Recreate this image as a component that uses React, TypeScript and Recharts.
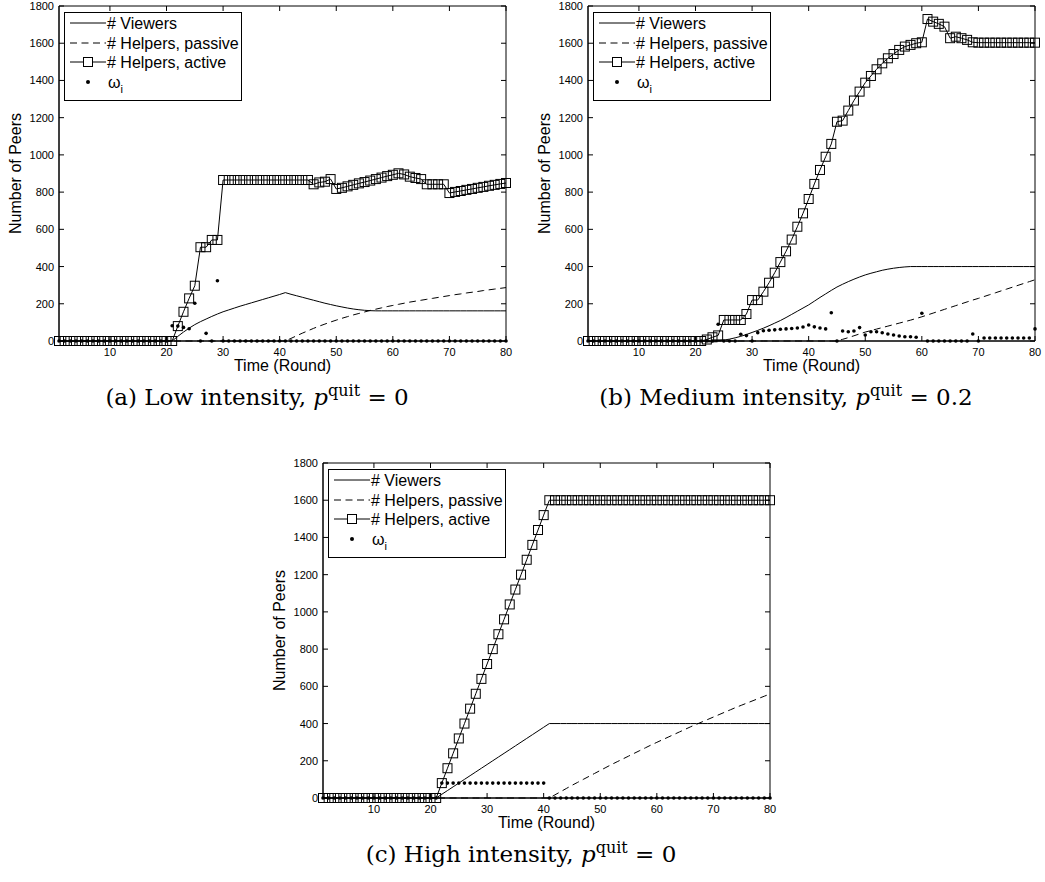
import { ComposedChart, Line, XAxis, YAxis, Legend, ReferenceArea, Label } from 'recharts'

const rounds = [
  1, 2, 3, 4, 5, 6, 7, 8, 9, 10, 11, 12, 13, 14, 15, 16, 17, 18, 19, 20,
  21, 22, 23, 24, 25, 26, 27, 28, 29, 30, 31, 32, 33, 34, 35, 36, 37, 38, 39, 40,
  41, 42, 43, 44, 45, 46, 47, 48, 49, 50, 51, 52, 53, 54, 55, 56, 57, 58, 59, 60,
  61, 62, 63, 64, 65, 66, 67, 68, 69, 70, 71, 72, 73, 74, 75, 76, 77, 78, 79, 80,
]
const xTicks = [10, 20, 30, 40, 50, 60, 70, 80]
const yTicks = [0, 200, 400, 600, 800, 1000, 1200, 1400, 1600, 1800]

// (a) low intensity
const viewersA = [
  0, 0, 0, 0, 0, 0, 0, 0, 0, 0,
  0, 0, 0, 0, 0, 0, 0, 0, 0, 0,
  0, 25, 48, 69, 88, 104, 118, 132, 145, 157,
  167, 177, 187, 196, 205, 214, 223, 232, 241, 250,
  260, 251, 243, 235, 227, 219, 211, 203, 196, 189,
  183, 177, 172, 168, 165, 163, 162, 162, 162, 162,
  162, 162, 162, 162, 162, 162, 162, 162, 162, 162,
  162, 162, 162, 162, 162, 162, 162, 162, 162, 162,
]
const passiveA = [
  0, 0, 0, 0, 0, 0, 0, 0, 0, 0,
  0, 0, 0, 0, 0, 0, 0, 0, 0, 0,
  0, 0, 0, 0, 0, 0, 0, 0, 0, 0,
  0, 0, 0, 0, 0, 0, 0, 0, 0, 0,
  0, 14, 28, 42, 55, 68, 80, 91, 102, 112,
  122, 131, 140, 148, 156, 164, 171, 178, 185, 191,
  197, 203, 209, 214, 219, 224, 229, 234, 239, 244,
  249, 253, 258, 262, 266, 271, 275, 279, 283, 287,
]
const activeA = [
  0, 0, 0, 0, 0, 0, 0, 0, 0, 0,
  0, 0, 0, 0, 0, 0, 0, 0, 0, 0,
  0, 80, 157, 229, 297, 504, 504, 543, 543, 865,
  865, 865, 865, 865, 865, 865, 865, 865, 865, 865,
  865, 865, 865, 865, 865, 842, 852, 856, 870, 817,
  823, 831, 839, 847, 854, 862, 870, 878, 886, 893,
  901, 895, 883, 876, 870, 842, 842, 842, 842, 795,
  801, 806, 812, 817, 823, 828, 834, 839, 844, 849,
]
const omegaA = [
  0, 0, 0, 0, 0, 0, 0, 0, 0, 0,
  0, 0, 0, 0, 0, 0, 0, 0, 0, 0,
  82, 80, 73, 66, 203, 0, 41, 0, 324, 0,
  0, 0, 0, 0, 0, 0, 0, 0, 0, 0,
  0, 0, 0, 0, 0, 0, 0, 0, 0, 0,
  0, 0, 0, 0, 0, 0, 0, 0, 0, 0,
  0, 0, 0, 0, 0, 0, 0, 0, 0, 0,
  0, 0, 0, 0, 0, 0, 0, 0, 0, 0,
]

// (b) medium intensity
const viewersB = [
  0, 0, 0, 0, 0, 0, 0, 0, 0, 0,
  0, 0, 0, 0, 0, 0, 0, 0, 0, 0,
  0, 0, 0, 2, 5, 10, 17, 25, 35, 46,
  57, 69, 82, 96, 110, 126, 143, 160, 177, 194,
  214, 234, 253, 272, 290, 305, 319, 332, 344, 355,
  364, 372, 380, 386, 391, 395, 398, 400, 400, 400,
  400, 400, 400, 400, 400, 400, 400, 400, 400, 400,
  400, 400, 400, 400, 400, 400, 400, 400, 400, 400,
]
const passiveB = [
  0, 0, 0, 0, 0, 0, 0, 0, 0, 0,
  0, 0, 0, 0, 0, 0, 0, 0, 0, 0,
  0, 0, 0, 0, 0, 0, 0, 0, 0, 0,
  0, 0, 0, 0, 0, 0, 0, 0, 0, 0,
  0, 0, 0, 0, 0, 9, 18, 28, 38, 48,
  56, 64, 72, 80, 88, 96, 104, 112, 121, 130,
  140, 150, 160, 170, 180, 190, 200, 210, 220, 229,
  239, 249, 259, 269, 279, 289, 299, 309, 319, 329,
]
const activeB = [
  0, 0, 0, 0, 0, 0, 0, 0, 0, 0,
  0, 0, 0, 0, 0, 0, 0, 0, 0, 0,
  0, 8, 20, 30, 113, 113, 113, 113, 145, 220,
  220, 265, 313, 367, 424, 482, 545, 614, 686, 763,
  844, 919, 990, 1059, 1178, 1184, 1238, 1292, 1340, 1388,
  1424, 1460, 1492, 1519, 1542, 1564, 1582, 1591, 1600, 1605,
  1730, 1716, 1704, 1689, 1627, 1635, 1627, 1618, 1605, 1603,
  1603, 1603, 1603, 1603, 1603, 1603, 1603, 1603, 1603, 1603,
]
const omegaB = [
  0, 0, 0, 0, 0, 0, 0, 0, 0, 0,
  0, 0, 0, 0, 0, 0, 0, 0, 0, 0,
  0, 0, 0, 90, 0, 0, 0, 36, 29, 0,
  45, 55, 58, 60, 63, 65, 67, 70, 75, 86,
  76, 70, 65, 152, 0, 54, 50, 54, 72, 32,
  50, 50, 44, 38, 32, 27, 23, 23, 20, 149,
  0, 0, 0, 0, 0, 0, 0, 0, 38, 0,
  16, 16, 16, 16, 16, 16, 16, 16, 16, 65,
]

// (c) high intensity
const viewersC = [
  0, 0, 0, 0, 0, 0, 0, 0, 0, 0,
  0, 0, 0, 0, 0, 0, 0, 0, 0, 0,
  0, 20, 40, 60, 80, 100, 120, 140, 160, 180,
  200, 220, 240, 260, 280, 300, 320, 340, 360, 380,
  400, 400, 400, 400, 400, 400, 400, 400, 400, 400,
  400, 400, 400, 400, 400, 400, 400, 400, 400, 400,
  400, 400, 400, 400, 400, 400, 400, 400, 400, 400,
  400, 400, 400, 400, 400, 400, 400, 400, 400, 400,
]
const passiveC = [
  0, 0, 0, 0, 0, 0, 0, 0, 0, 0,
  0, 0, 0, 0, 0, 0, 0, 0, 0, 0,
  0, 0, 0, 0, 0, 0, 0, 0, 0, 0,
  0, 0, 0, 0, 0, 0, 0, 0, 0, 0,
  0, 17, 34, 51, 68, 84, 100, 116, 132, 148,
  164, 180, 195, 210, 225, 240, 255, 270, 285, 299,
  313, 327, 341, 355, 369, 383, 396, 409, 422, 435,
  448, 461, 474, 487, 499, 511, 523, 535, 547, 559,
]
const activeC = [
  0, 0, 0, 0, 0, 0, 0, 0, 0, 0,
  0, 0, 0, 0, 0, 0, 0, 0, 0, 0,
  0, 80, 160, 240, 320, 400, 480, 560, 640, 720,
  800, 880, 960, 1040, 1120, 1200, 1280, 1360, 1440, 1520,
  1600, 1600, 1600, 1600, 1600, 1600, 1600, 1600, 1600, 1600,
  1600, 1600, 1600, 1600, 1600, 1600, 1600, 1600, 1600, 1600,
  1600, 1600, 1600, 1600, 1600, 1600, 1600, 1600, 1600, 1600,
  1600, 1600, 1600, 1600, 1600, 1600, 1600, 1600, 1600, 1600,
]
const omegaC = [
  0, 0, 0, 0, 0, 0, 0, 0, 0, 0,
  0, 0, 0, 0, 0, 0, 0, 0, 0, 0,
  0, 80, 80, 80, 80, 80, 80, 80, 80, 80,
  80, 80, 80, 80, 80, 80, 80, 80, 80, 80,
  0, 0, 0, 0, 0, 0, 0, 0, 0, 0,
  0, 0, 0, 0, 0, 0, 0, 0, 0, 0,
  0, 0, 0, 0, 0, 0, 0, 0, 0, 0,
  0, 0, 0, 0, 0, 0, 0, 0, 0, 0,
]

const PLOT_W = 447
const PLOT_H = 335
const AXIS_W = 59
const AXIS_H = 40
const TOP = 6
const RIGHT = 8
const CHART_W = AXIS_W + PLOT_W + RIGHT
const CHART_H = TOP + PLOT_H + AXIS_H

const SANS = '"Liberation Sans", Arial, Helvetica, sans-serif'
const SERIF = '"DejaVu Serif", "Liberation Serif", serif'
const DASH = '7 4.5'

function BottomTick({ x, y, payload }: any) {
  return (
    <g>
      <line x1={x} x2={x} y1={y} y2={y - 5} stroke="#000" />
      <line x1={x} x2={x} y1={y - PLOT_H} y2={y - PLOT_H + 5} stroke="#000" />
      <text x={x} y={y + 11} textAnchor="middle" dominantBaseline="central" fontSize={11} fontFamily={SANS} fill="#000">
        {payload.value}
      </text>
    </g>
  )
}

function LeftTick({ x, y, payload }: any) {
  return (
    <g>
      <line x1={x} x2={x + 5} y1={y} y2={y} stroke="#000" />
      <line x1={x + PLOT_W} x2={x + PLOT_W - 5} y1={y} y2={y} stroke="#000" />
      <text x={x - 5} y={y} textAnchor="end" dominantBaseline="central" fontSize={11} fontFamily={SANS} fill="#000">
        {payload.value}
      </text>
    </g>
  )
}

const squareDot = (props: any) => {
  const { cx, cy, index } = props
  if (cx == null || cy == null) return <g key={index} />
  return <rect key={index} x={cx - 4.5} y={cy - 4.5} width={9} height={9} fill="none" stroke="#000" strokeWidth={1} />
}

function LegendBox() {
  const txt = { fontSize: 16, fontFamily: SANS, fill: '#000', dominantBaseline: 'central' as const }
  return (
    <svg width={179} height={89} style={{ display: 'block' }}>
      <rect x={0.5} y={0.5} width={177} height={88} fill="#fff" stroke="#000" />
      <line x1={6} x2={42} y1={11} y2={11} stroke="#000" />
      <text x={43} y={11} {...txt}># Viewers</text>
      <line x1={6} x2={42} y1={31} y2={31} stroke="#000" strokeDasharray={DASH} />
      <text x={43} y={31} {...txt}># Helpers, passive</text>
      <line x1={6} x2={42} y1={50} y2={50} stroke="#000" />
      <rect x={19.5} y={45.5} width={9} height={9} fill="#fff" stroke="#000" />
      <text x={43} y={50} {...txt}># Helpers, active</text>
      <circle cx={24} cy={70} r={2} fill="#000" />
      <text x={44} y={70} {...txt}>
        ω<tspan fontSize={11} dy={7}>i</tspan>
      </text>
    </svg>
  )
}

function PeersPanel({ viewers, passive, active, omega, left, top, caption }: any) {
  const data = rounds.map((t, i) => ({
    t,
    viewers: viewers[i],
    passive: passive[i],
    active: active[i],
    omega: omega[i],
  }))
  return (
    <div style={{ position: 'absolute', left, top, width: CHART_W }}>
      <ComposedChart width={CHART_W} height={CHART_H} data={data} margin={{ top: TOP, right: RIGHT, bottom: 0, left: 0 }}>
        <XAxis
          dataKey="t"
          type="number"
          domain={[1, 80]}
          ticks={xTicks}
          interval={0}
          height={AXIS_H}
          tickSize={0}
          tickMargin={0}
          tickLine={false}
          axisLine={{ stroke: '#000' }}
          tick={(p: any) => <BottomTick {...p} />}
        >
          <Label
            content={(p: any) => {
              const vb = p.viewBox
              return (
                <text x={vb.x + vb.width / 2} y={vb.y + 24} textAnchor="middle" dominantBaseline="central" fontSize={16} fontFamily={SANS} fill="#000">
                  Time (Round)
                </text>
              )
            }}
          />
        </XAxis>
        <YAxis
          type="number"
          domain={[0, 1800]}
          ticks={yTicks}
          interval={0}
          width={AXIS_W}
          tickSize={0}
          tickMargin={0}
          tickLine={false}
          axisLine={{ stroke: '#000' }}
          tick={(p: any) => <LeftTick {...p} />}
        >
          <Label
            content={(p: any) => {
              const vb = p.viewBox
              const cx = vb.x + 15
              const cy = vb.y + vb.height / 2
              return (
                <text x={cx} y={cy} transform={`rotate(-90 ${cx} ${cy})`} textAnchor="middle" dominantBaseline="central" fontSize={16} fontFamily={SANS} fill="#000">
                  Number of Peers
                </text>
              )
            }}
          />
        </YAxis>
        <ReferenceArea x1={1} x2={80} y1={0} y2={1800} fill="none" stroke="#000" strokeWidth={1} />
        <Line dataKey="viewers" type="linear" stroke="#000" strokeWidth={1} dot={false} isAnimationActive={false} />
        <Line dataKey="passive" type="linear" stroke="#000" strokeWidth={1} strokeDasharray={DASH} dot={false} isAnimationActive={false} />
        <Line dataKey="active" type="linear" stroke="#000" strokeWidth={1} dot={squareDot} activeDot={false} isAnimationActive={false} />
        <Line dataKey="omega" type="linear" stroke="none" dot={{ r: 1.8, fill: '#000', stroke: 'none' }} activeDot={false} isAnimationActive={false} />
        <Legend
          layout="vertical"
          align="center"
          verticalAlign="middle"
          wrapperStyle={{ left: 64, top: 12, width: 179, height: 89 }}
          content={() => <LegendBox />}
        />
      </ComposedChart>
      <div style={{ position: 'absolute', left: 0, top: 374, width: CHART_W, textAlign: 'center', fontFamily: SERIF, fontSize: 23, lineHeight: '34px', color: '#000' }}>
        {caption}
      </div>
    </div>
  )
}

export default function App() {
  return (
    <div style={{ position: 'absolute', left: 0, top: 0, width: 1045, height: 882, overflow: 'hidden', background: '#fff' }}>
      <PeersPanel
        viewers={viewersA}
        passive={passiveA}
        active={activeA}
        omega={omegaA}
        left={0}
        top={0}
        caption={<span>(a) Low intensity, <i>p</i><sup style={{ fontSize: 16 }}>quit</sup> = 0</span>}
      />
      <PeersPanel
        viewers={viewersB}
        passive={passiveB}
        active={activeB}
        omega={omegaB}
        left={529}
        top={0}
        caption={<span>(b) Medium intensity, <i>p</i><sup style={{ fontSize: 16 }}>quit</sup> = 0.2</span>}
      />
      <PeersPanel
        viewers={viewersC}
        passive={passiveC}
        active={activeC}
        omega={omegaC}
        left={264}
        top={457}
        caption={<span>(c) High intensity, <i>p</i><sup style={{ fontSize: 16 }}>quit</sup> = 0</span>}
      />
    </div>
  )
}
